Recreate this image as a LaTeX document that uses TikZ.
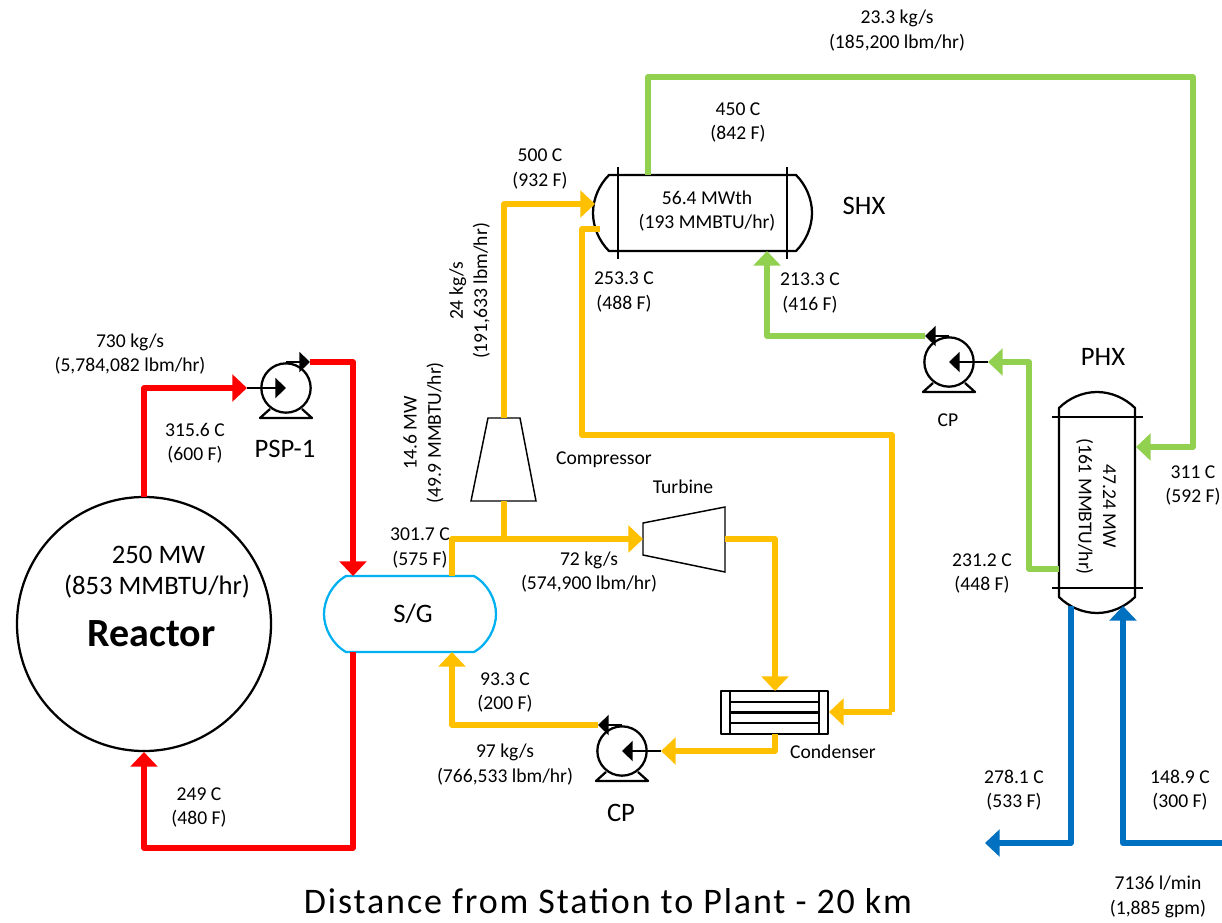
\documentclass[tikz,border=0pt]{standalone}
\usepackage{fontspec}
\setmainfont{Carlito}
\usetikzlibrary{arrows.meta}
\definecolor{cRed}{HTML}{FF0000}
\definecolor{cYel}{HTML}{FFC000}
\definecolor{cGrn}{HTML}{92D050}
\definecolor{cBlu}{HTML}{0070C0}
\definecolor{cSky}{HTML}{00B0F0}
\tikzset{
  flow/.style={line width=3.9pt,line join=round,-{Triangle[length=11pt,width=20pt]}},
  pipe/.style={line width=3.9pt,line join=round},
  equip/.style={draw=black,line width=1.7pt,line join=round},
  thin equip/.style={draw=black,line width=1pt},
  lbl/.style={inner sep=0pt,align=center,font=\fontsize{14.7}{18.2}\selectfont,yshift=-1.1pt},
  big/.style={inner sep=0pt,align=center,font=\fontsize{20}{23.5}\selectfont},
  blackhead/.style={line width=1.6pt,-{Triangle[length=8pt,width=15pt]}}
}
% name, x, y, direction (1 = inlet at left, -1 = inlet at right)
\newcommand{\pumpsym}[4]{%
  \begin{scope}[shift={(#2,#3)},xscale=#4]
    \node[circle,draw=black,line width=1.7pt,minimum size=37pt,inner sep=0pt] (#1) at (0,0) {};
    \coordinate (#1-in) at (-39,0);
    \coordinate (#1-mid) at (0,0);
    \coordinate (#1-top) at (0,-26);
    \coordinate (#1-out) at (24,-26);
    \draw[blackhead] (#1-in) -- (#1-mid);
    \draw[blackhead] (#1-top) -- (#1-out);
    \draw[equip] (-16,21) -- (-26,30) -- (26,30) -- (16,21);
  \end{scope}}
\begin{document}
\begin{tikzpicture}[x=0.75pt,y=-0.75pt]
\useasboundingbox (0,0) rectangle (1222,922);

% ---- equipment ----
\node[circle,draw=black,line width=1.7pt,minimum size=190.5pt,inner sep=0pt] (reactor) at (144,624) {};
\node[big] (reactorA) at (158.5,555) {250 MW};
\node[big] (reactorB) at (157,587) {(853 MMBTU/hr)};
\node[inner sep=0pt,font=\fontsize{30}{34}\selectfont\bfseries] (reactorC) at (151.5,634) {Reactor};

\draw[draw=cSky,line width=1.7pt] (346,576) -- (474,576) .. controls (488,584) and (496,600) .. (496,614)
  .. controls (496,628) and (488,644) .. (474,652) -- (346,652)
  .. controls (332,644) and (324,628) .. (324,614) .. controls (324,600) and (332,584) .. (346,576) -- cycle;
\node[big] (sg) at (413,614) {S/G};

\draw[equip] (609,175) -- (796,175) .. controls (806,185) and (812,199) .. (812,213)
  .. controls (812,227) and (806,241) .. (796,251) -- (609,251)
  .. controls (599,241) and (593,227) .. (593,213) .. controls (593,199) and (599,185) .. (609,175) -- cycle;
\draw[equip] (618,167) -- (618,259);
\draw[equip] (787,167) -- (787,259);
\node[lbl] (shxtext) at (707,209.5) {56.4 MWth\\(193 MMBTU/hr)};

\draw[equip] (1059,408) .. controls (1069,398) and (1083,392) .. (1097,392)
  .. controls (1111,392) and (1125,398) .. (1135,408) -- (1135,597)
  .. controls (1125,607) and (1111,613) .. (1097,613)
  .. controls (1083,613) and (1069,607) .. (1059,597) -- cycle;
\draw[equip] (1052,417) -- (1143,417);
\draw[equip] (1052,588) -- (1143,588);
\node[lbl,rotate=-90] (phxtext) at (1096,505) {47.24 MW\\(161 MMBTU/hr)};

\draw[thin equip,line width=1.1pt] (488,418) -- (520,418) -- (536,501) -- (471,501) -- cycle;
\draw[thin equip,line width=1.1pt] (643,523) -- (725,507) -- (725,572) -- (643,555) -- cycle;

\draw[equip] (721,691) rectangle (828,734);
\draw[equip] (730,691) -- (730,734);
\draw[equip] (819,691) -- (819,734);
\draw[equip] (730,702) -- (819,702);
\draw[equip] (730,712.5) -- (819,712.5);
\draw[equip] (730,723) -- (819,723);

\pumpsym{psp}{286}{388}{1}
\pumpsym{cpa}{622}{751}{-1}
\pumpsym{cpb}{949}{362}{-1}

% ---- ports ----
\coordinate (reactor-top) at (144,497);
\coordinate (sg-top-a) at (353,576);
\coordinate (sg-bot-a) at (353,652);
\coordinate (reactor-bot) at (144,752);
\coordinate (sg-top-b) at (452,576);
\coordinate (sg-bot-b) at (452,652);
\coordinate (comp-top) at (504,418);
\coordinate (comp-bot) at (504,501);
\coordinate (turb-in) at (643,539);
\coordinate (turb-out) at (725,539);
\coordinate (cond-top) at (775,691);
\coordinate (cond-bot) at (775,734);
\coordinate (cond-right) at (829,712);
\coordinate (shx-in) at (595,204);
\coordinate (shx-out) at (600,229);
\coordinate (shx-bot) at (767,251);
\coordinate (shx-top) at (648,175);
\coordinate (phx-left) at (1059,569);
\coordinate (phx-right) at (1136,447);
\coordinate (phx-bl) at (1071,606);
\coordinate (phx-br) at (1123,606);
\coordinate (blue-out) at (985,843);
\coordinate (blue-in) at (1222,843);
\coordinate (junction) at (504,539);

% ---- red loop ----
\draw[flow,draw=cRed,cRed] (reactor-top) |- (psp-in);
\draw[flow,draw=cRed,cRed] (psp-out) -| (sg-top-a);
\draw[pipe,draw=cRed] (sg-bot-a) -- (353,848) -- (144,848) -- (144,765);
\draw[flow,draw=cRed,cRed] (144,790) -- (reactor-bot);

% ---- yellow loop ----
\draw[flow,draw=cYel,cYel] (sg-top-b) |- (turb-in);
\draw[pipe,draw=cYel] (comp-bot) -- (junction);
\draw[flow,draw=cYel,cYel] (comp-top) |- (shx-in);
\draw[pipe,draw=cYel] (shx-out) -| (582,435) -| (892,712);
\draw[flow,draw=cYel,cYel] (892,712) -- (cond-right);
\draw[flow,draw=cYel,cYel] (turb-out) -| (cond-top);
\draw[flow,draw=cYel,cYel] (cond-bot) |- (cpa-in);
\draw[flow,draw=cYel,cYel] (cpa-out) -| (sg-bot-b);

% ---- green loop ----
\draw[flow,draw=cGrn,cGrn] (phx-left) -- (1029,569) -- (1029,362) -- (cpb-in);
\draw[flow,draw=cGrn,cGrn] (cpb-out) -| (shx-bot);
\draw[flow,draw=cGrn,cGrn] (shx-top) -- (648,77) -- (1193,77) -- (1193,447) -- (phx-right);

% ---- blue loop ----
\draw[flow,draw=cBlu,cBlu] (phx-bl) |- (blue-out);
\draw[flow,draw=cBlu,cBlu] (blue-in) -| (phx-br);

% ---- labels ----
\node[lbl] (t1) at (897,29) {23.3 kg/s\\(185,200 lbm/hr)};
\node[lbl] (t2) at (738,121) {450 C\\(842 F)};
\node[lbl] (t3) at (540,167.5) {500 C\\(932 F)};
\node[big] (t4) at (864,206) {SHX};
\node[lbl] (t5) at (624,290.5) {253.3 C\\(488 F)};
\node[lbl] (t6) at (810,291.5) {213.3 C\\(416 F)};
\node[lbl,rotate=90] (t7) at (469.5,289.5) {24 kg/s\\(191,633 lbm/hr)};
\node[lbl,rotate=90] (t8) at (423.5,431.5) {14.6 MW\\(49.9 MMBTU/hr)};
\node[lbl] (t9) at (130,352.5) {730 kg/s\\(5,784,082 lbm/hr)};
\node[lbl] (t10) at (195,441.5) {315.6 C\\(600 F)};
\node[big] (t11) at (285,449) {PSP-1};
\node[lbl] (t12) at (199,806) {249 C\\(480 F)};
\node[lbl] (t13) at (420,546.5) {301.7 C\\(575 F)};
\node[lbl] (t14) at (589,570.5) {72 kg/s\\(574,900 lbm/hr)};
\node[lbl] (t15) at (604,458) {Compressor};
\node[lbl] (t16) at (683,485) {Turbine};
\node[lbl] (t17) at (505,691) {93.3 C\\(200 F)};
\node[lbl] (t18) at (505,763) {97 kg/s\\(766,533 lbm/hr)};
\node[big] (t19) at (621,813) {CP};
\node[lbl] (t20) at (833,750) {Condenser};
\node[lbl] (t21) at (948,419) {CP};
\node[big] (t22) at (1103,357) {PHX};
\node[lbl] (t23) at (1193,484) {311 C\\(592 F)};
\node[lbl] (t24) at (982,572) {231.2 C\\(448 F)};
\node[lbl] (t25) at (1014,788.5) {278.1 C\\(533 F)};
\node[lbl] (t26) at (1180,788.5) {148.9 C\\(300 F)};
\node[lbl] (t27) at (1158,895.5) {7136 l/min\\(1,885 gpm)};
\node[inner sep=0pt,font=\fontsize{27}{30}\selectfont\addfontfeatures{LetterSpace=5.2}] (title) at (608,901) {Distance from Station to Plant - 20 km};
\end{tikzpicture}
\end{document}
